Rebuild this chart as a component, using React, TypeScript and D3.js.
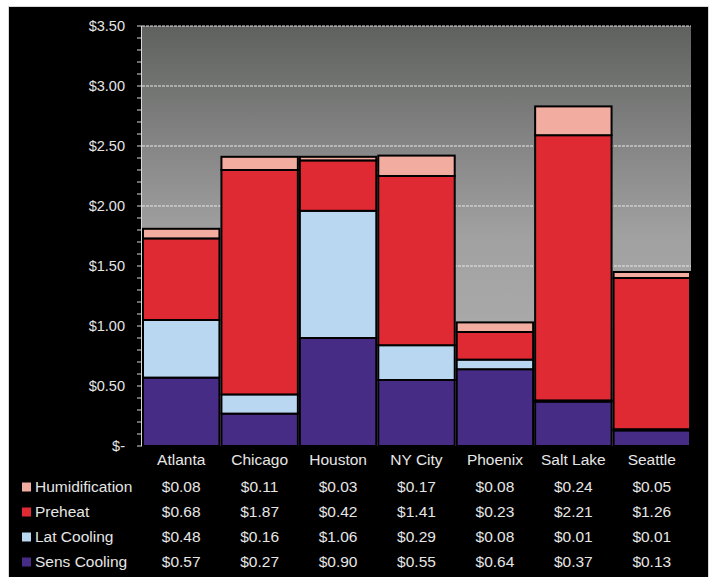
import React from "react";
import * as d3 from "d3";

const cities = ["Atlanta", "Chicago", "Houston", "NY City", "Phoenix", "Salt Lake", "Seattle"];
const seriesNames = ["Humidification", "Preheat", "Lat Cooling", "Sens Cooling"];
const humidification = [0.08, 0.11, 0.03, 0.17, 0.08, 0.24, 0.05];
const preheat = [0.68, 1.87, 0.42, 1.41, 0.23, 2.21, 1.26];
const latCooling = [0.48, 0.16, 1.06, 0.29, 0.08, 0.01, 0.01];
const sensCooling = [0.57, 0.27, 0.9, 0.55, 0.64, 0.37, 0.13];
const yTicks = [0, 0.5, 1.0, 1.5, 2.0, 2.5, 3.0, 3.5];
const colors = ["#f2aca0", "#e02a33", "#b9d7f1", "#472c86"];

const W = 712, H = 577;
const plotLeft = 142, plotRight = 691, plotTop = 26, plotBottom = 446;

export default function App() {
  const x = d3.scaleBand<string>().domain(cities).range([plotLeft, plotRight]).padding(0);
  const y = d3.scaleLinear().domain([0, 3.5]).range([plotBottom, plotTop]);
  const valuesBySeries = [humidification, preheat, latCooling, sensCooling];
  const rows = cities.map((c, i) => ({
    city: c,
    sens: sensCooling[i],
    lat: latCooling[i],
    pre: preheat[i],
    hum: humidification[i],
  }));
  const stackKeys = ["sens", "lat", "pre", "hum"];
  const stackColors: Record<string, string> = { sens: colors[3], lat: colors[2], pre: colors[1], hum: colors[0] };
  const stacked = d3.stack<any>().keys(stackKeys)(rows);
  const minorTicks = d3.range(0, 3.5001, 0.1);
  const textColor = "#e6e6e6";
  const font = "Liberation Sans, Arial, sans-serif";
  const rowYs = [487, 512, 537, 562];
  const fs = 15.5;

  return (
    <svg width={W} height={H} style={{ position: "absolute", left: 0, top: 0, display: "block" }}>
      <defs>
        <linearGradient id="bg" x1="0" y1="0" x2="0" y2="1">
          <stop offset="0" stopColor="#5f615f" />
          <stop offset="0.5" stopColor="#a1a1a1" />
          <stop offset="1" stopColor="#b4b4b4" />
        </linearGradient>
      </defs>
      <rect x={0} y={0} width={W} height={H} fill="#ffffff" />
      <rect x={8} y={6} width={701} height={H - 6} fill="#d8d8d8" />
      <rect x={9} y={7} width={699} height={H - 7} fill="#000000" />
      <rect x={plotLeft} y={plotTop} width={plotRight - plotLeft} height={plotBottom - plotTop} fill="url(#bg)" />
      {yTicks.filter((t) => t > 0).map((t) => (
        <line key={"g" + t} x1={plotLeft} x2={plotRight} y1={y(t)} y2={y(t)} stroke="#e8e8e8" strokeWidth={1} strokeDasharray="3,1" />
      ))}
      {stacked.map((layer) =>
        layer.map((d, i) => (
          <rect
            key={layer.key + i}
            x={x(cities[i])! + 1}
            y={y(d[1])}
            width={x.bandwidth() - 2}
            height={Math.max(0, y(d[0]) - y(d[1]))}
            fill={stackColors[layer.key]}
            stroke="#000"
            strokeWidth={2}
          />
        ))
      )}
      <line x1={plotLeft - 0.5} x2={plotLeft - 0.5} y1={plotTop} y2={plotBottom} stroke="#d8d8d8" strokeWidth={1} />
      {minorTicks.map((t, i) => (
        <line key={"m" + i} x1={plotLeft - 5} x2={plotLeft} y1={y(t)} y2={y(t)} stroke="#d8d8d8" strokeWidth={1} />
      ))}
      {yTicks.map((t) => (
        <text key={"t" + t} x={125} y={y(t)} dy="0.35em" textAnchor="end" fill={textColor} fontFamily={font} fontSize={14.5}>
          {t === 0 ? "$-" : d3.format("$.2f")(t)}
        </text>
      ))}
      {cities.map((c) => (
        <text key={c} x={x(c)! + x.bandwidth() / 2} y={460} dy="0.35em" textAnchor="middle" fill={textColor} fontFamily={font} fontSize={fs}>
          {c}
        </text>
      ))}
      {seriesNames.map((name, r) => (
        <g key={name}>
          <rect x={22} y={rowYs[r] - 4.5} width={9} height={9} fill={colors[r]} />
          <text x={35} y={rowYs[r]} dy="0.35em" fill={textColor} fontFamily={font} fontSize={fs}>
            {name}
          </text>
          {cities.map((c, i) => (
            <text key={c} x={x(c)! + x.bandwidth() / 2} y={rowYs[r]} dy="0.35em" textAnchor="middle" fill={textColor} fontFamily={font} fontSize={fs}>
              {d3.format("$.2f")(valuesBySeries[r][i])}
            </text>
          ))}
        </g>
      ))}
    </svg>
  );
}
